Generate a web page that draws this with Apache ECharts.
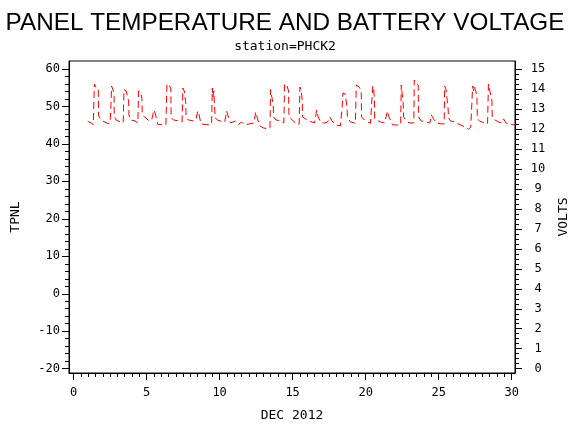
<!DOCTYPE html>
<html>
<head>
<meta charset="utf-8">
<title>Panel temperature and battery voltage</title>
<script src="https://cdn.jsdelivr.net/npm/echarts@6.0.0/dist/echarts.min.js"></script>
<style>
  html, body { margin: 0; padding: 0; background: #fff; }
  #chart { width: 570px; height: 430px; }
</style>
</head>
<body>
<div id="chart"></div>
<script>
// battery voltage (day of month, volts)
var voltDays = [
  0.97, 1.2, 1.35, 1.42, 1.5, 1.69, 1.71, 1.93, 2.34,
  2.5, 2.56, 2.6, 2.7, 2.77, 2.78, 2.9, 3.2,
  3.4, 3.45, 3.6, 3.77, 3.79, 3.9, 4.2,
  4.4, 4.45, 4.6, 4.68, 4.7, 4.8, 5.18,
  5.35, 5.5, 5.6, 5.77, 6.32,
  6.39, 6.55, 6.66, 6.68, 6.85, 7.2,
  7.43, 7.48, 7.58, 7.68, 7.7, 7.85, 8.2,
  8.37, 8.5, 8.6, 8.72, 9.28,
  9.45, 9.5, 9.55, 9.6, 9.67, 9.7, 9.85, 10.2,
  10.35, 10.48, 10.6, 10.75, 11.1, 11.3, 11.5, 11.7,
  12.35, 12.47, 12.6, 12.75, 13.0, 13.3,
  13.45, 13.49, 13.6, 13.67, 13.7, 13.85, 14.2,
  14.4, 14.45, 14.6, 14.72, 14.75, 14.99, 15.3,
  15.45, 15.5, 15.58, 15.66, 15.68, 15.8, 16.1,
  16.5, 16.65, 16.75, 16.95, 17.2,
  17.4, 17.55, 17.7, 17.93, 18.27,
  18.38, 18.45, 18.6, 18.73, 18.75, 18.96, 19.3,
  19.33, 19.36, 19.55, 19.7, 19.72, 19.99, 20.33,
  20.45, 20.49, 20.55, 20.6, 20.62, 20.75, 21.0,
  21.3, 21.5, 21.6, 21.85, 22.2,
  22.4, 22.44, 22.5, 22.57, 22.6, 22.75, 22.97,
  23.3, 23.33, 23.38, 23.6, 23.62, 23.8, 24.1,
  24.4, 24.5, 24.65, 24.85, 25.2,
  25.38, 25.41, 25.5, 25.65, 25.67, 25.8, 26.1,
  26.5, 26.8, 27.05,
  27.2, 27.27, 27.33, 27.4, 27.45, 27.62, 27.65, 27.8, 28.1,
  28.35, 28.41, 28.5, 28.65, 28.67, 28.85, 29.1,
  29.3, 29.45, 29.6, 29.8, 30.2
];
var voltValues = [
  12.38, 12.3, 12.22, 14.25, 14.1, 14.05, 12.65, 12.42, 12.27,
  12.3, 13.2, 14.15, 14.1, 13.8, 12.65, 12.45, 12.35,
  12.3, 13.97, 13.9, 13.4, 12.7, 12.45, 12.4,
  12.3, 13.9, 13.85, 13.5, 12.7, 12.6, 12.4,
  12.45, 12.95, 12.75, 12.22, 12.2,
  14.25, 14.2, 14.0, 12.55, 12.45, 12.4,
  12.35, 14.05, 13.9, 13.3, 12.6, 12.45, 12.4,
  12.45, 12.9, 12.7, 12.25, 12.2,
  12.25, 14.05, 13.6, 13.9, 12.9, 12.55, 12.45, 12.35,
  12.35, 12.9, 12.6, 12.3, 12.4, 12.22, 12.35, 12.2,
  12.3, 12.85, 12.5, 12.15, 12.05, 12.0,
  12.05, 13.97, 13.9, 13.2, 12.6, 12.45, 12.4,
  12.3, 14.25, 14.2, 13.9, 12.6, 12.45, 12.2,
  12.25, 14.1, 13.95, 13.4, 12.6, 12.5, 12.4,
  12.3, 12.95, 12.6, 12.3, 12.3,
  12.35, 12.6, 12.4, 12.2, 12.15,
  13.0, 13.8, 13.75, 13.1, 12.6, 12.35, 12.28,
  12.25, 14.2, 14.1, 13.9, 12.6, 12.4, 12.28,
  12.3, 14.15, 14.0, 13.5, 12.5, 12.4, 12.35,
  12.3, 12.9, 12.6, 12.2, 12.2,
  12.2, 14.2, 14.15, 13.3, 12.6, 12.45, 12.3,
  12.3, 14.45, 14.3, 14.2, 12.6, 12.4, 12.35,
  12.3, 12.7, 12.5, 12.3, 12.25,
  12.25, 14.15, 14.0, 13.0, 12.6, 12.4, 12.35,
  12.2, 12.1, 11.98,
  12.1, 13.2, 14.15, 13.9, 14.1, 13.7, 12.5, 12.4, 12.3,
  12.25, 14.25, 14.2, 13.4, 12.6, 12.45, 12.35,
  12.3, 12.5, 12.3, 12.25, 12.2
];

var dayTicks = [0, 5, 10, 15, 20, 25, 30];
var tpnlTicks = [-20, -10, 0, 10, 20, 30, 40, 50, 60];
var voltTicks = [0, 1, 2, 3, 4, 5, 6, 7, 8, 9, 10, 11, 12, 13, 14, 15];

function steps(from, to, step) {
  var out = [];
  for (var v = from; v <= to + 1e-9; v += step) out.push(Math.round(v * 100) / 100);
  return out;
}

var labelFont = { fontFamily: 'DejaVu Sans Mono', fontSize: 12, color: '#000' };
var nameFont = { fontFamily: 'DejaVu Sans Mono', fontSize: 13, color: '#000' };
var black = { color: '#000', width: 1 };

var chart = echarts.init(document.getElementById('chart'), null, { renderer: 'canvas' });

chart.setOption({
  animation: false,
  backgroundColor: '#fff',
  title: [{
    text: 'PANEL TEMPERATURE AND BATTERY VOLTAGE',
    left: 'center', top: 6,
    textStyle: { fontFamily: 'Liberation Sans', fontSize: 24.3, fontWeight: 'normal', color: '#000' }
  }, {
    text: 'station=PHCK2',
    left: 'center', top: 35,
    textStyle: { fontFamily: 'DejaVu Sans Mono', fontSize: 13, fontWeight: 'normal', color: '#000' }
  }],
  grid: {
    left: 69, right: 55, top: 61, bottom: 57,
    outerBoundsMode: 'none',
    containLabel: false,
    show: true, borderColor: '#000', borderWidth: 1
  },
  xAxis: [{
    type: 'value', min: -0.315, max: 30.23, position: 'bottom',
    name: 'DEC 2012', nameLocation: 'middle', nameGap: 36, nameTextStyle: nameFont,
    axisLine: { onZero: false, lineStyle: black },
    axisTick: { length: 7, lineStyle: black, customValues: dayTicks },
    axisLabel: Object.assign({ margin: 14, customValues: dayTicks }, labelFont),
    splitLine: { show: false }
  }, {
    type: 'value', min: -0.315, max: 30.23, position: 'bottom',
    axisLine: { show: false, onZero: false },
    axisTick: { length: 4, lineStyle: black, customValues: steps(0, 30, 0.5) },
    axisLabel: { show: false },
    splitLine: { show: false }
  }],
  yAxis: [{
    type: 'value', min: -21.15, max: 62.13, position: 'left',
    name: 'TPNL', nameLocation: 'middle', nameGap: 47, nameRotate: 90, nameTextStyle: nameFont,
    axisLine: { show: true, onZero: false, lineStyle: black },
    axisTick: { show: true, length: 7, lineStyle: black, customValues: tpnlTicks },
    axisLabel: Object.assign({ margin: 9, customValues: tpnlTicks }, labelFont),
    splitLine: { show: false }
  }, {
    type: 'value', min: -0.215, max: 15.4, position: 'right',
    name: 'VOLTS', nameLocation: 'middle', nameGap: 42, nameRotate: 90, nameTextStyle: nameFont,
    axisLine: { show: true, onZero: false, lineStyle: black },
    axisTick: { show: true, length: 7, lineStyle: black, customValues: voltTicks },
    axisLabel: Object.assign({ margin: 23, align: 'center', customValues: voltTicks }, labelFont),
    splitLine: { show: false }
  }, {
    type: 'value', min: -21.15, max: 62.13, position: 'left',
    axisLine: { show: false, onZero: false },
    axisTick: { show: true, length: 4, lineStyle: black, customValues: steps(-20, 60, 2) },
    axisLabel: { show: false },
    splitLine: { show: false }
  }, {
    type: 'value', min: -0.215, max: 15.4, position: 'right',
    axisLine: { show: false, onZero: false },
    axisTick: { show: true, length: 4, lineStyle: black, customValues: steps(0, 15, 0.25) },
    axisLabel: { show: false },
    splitLine: { show: false }
  }],
  series: [{
    name: 'VOLTS',
    type: 'line',
    xAxisIndex: 0,
    yAxisIndex: 1,
    showSymbol: false,
    data: voltDays.map(function (d, i) { return [d, voltValues[i]]; }),
    lineStyle: { color: '#ff0000', width: 1, type: [7, 4] }
  }]
});
</script>
</body>
</html>
